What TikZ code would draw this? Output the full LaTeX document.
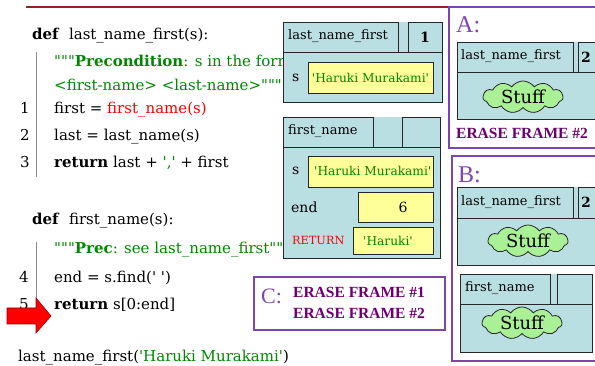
\documentclass[tikz,border=0pt]{standalone}
\usepackage{fontspec}
\setmainfont{DejaVu Serif}[Ligatures=TeXOff]
\newfontfamily\timesf{Liberation Serif}
\usetikzlibrary{shapes.symbols}
\definecolor{framebg}{RGB}{185,223,227}
\definecolor{yelbg}{RGB}{255,255,153}
\definecolor{cloudbg}{RGB}{170,240,150}
\definecolor{codegreen}{RGB}{0,135,0}
\definecolor{boxpurple}{RGB}{125,70,175}
\definecolor{erasepurple}{RGB}{110,0,110}
\definecolor{topred}{RGB}{150,35,35}
\tikzset{
  code/.style={anchor=base west, inner sep=0pt, font=\fontsize{15}{18}\selectfont},
  lnum/.style={anchor=base west, inner sep=0pt, font=\fontsize{15}{18}\selectfont},
  fbox/.style={draw=black!85, fill=framebg, line width=0.8pt},
  ybox/.style={draw=black!85, fill=yelbg, line width=0.8pt},
  ftext/.style={anchor=west, inner sep=0pt, font=\fontsize{13}{15}\selectfont},
  ytext/.style={inner sep=0pt, text=codegreen, font=\fontsize{12.2}{14}\selectfont},
  stuff/.style={cloud, cloud puffs=11, cloud puff arc=110, aspect=2.6, draw=black!85, fill=cloudbg, line width=0.8pt, inner sep=0pt, minimum width=80pt, minimum height=31pt, font=\fontsize{18}{20}\selectfont},
  pbox/.style={draw=boxpurple, line width=1.4pt},
  bigl/.style={anchor=west, inner sep=0pt, text=boxpurple, font=\timesf\fontsize{24}{26}\selectfont},
  erase/.style={anchor=west, inner sep=0pt, text=erasepurple, font=\timesf\bfseries\fontsize{15.5}{21}\selectfont},
  vline/.style={draw=black!45, line width=0.8pt}
}
\begin{document}
\begin{tikzpicture}[x=1pt,y=-1pt]
\clip (0,0) rectangle (595,366);
\fill[white] (0,0) rectangle (595,366);

% top line
\draw[topred, line width=1.4pt] (26,7) -- (449,7);

% ---------------- code ----------------
\node[code] (def1) at (32,40) {\textbf{def}\ \ last\_name\_first(s):};
\draw[vline] (36,52) -- (36,177);
\node[code, text=codegreen] (doc1) at (54,67) {"""\textbf{Precondition}: s in the form};
\node[code, text=codegreen] (doc2) at (54,91) {<first-name> <last-name>"""};
\node[code] (c1) at (54,114) {first = \textcolor{red}{first\_name(s)}};
\node[code] (c2) at (54,141) {last = last\_name(s)};
\node[code] (c3) at (54,168) {\textbf{return} last + \textcolor{codegreen}{','} + first};
\node[lnum] (n1) at (20,114) {1};
\node[lnum] (n2) at (20,141) {2};
\node[lnum] (n3) at (20,168) {3};

\node[code] (def2) at (32,225) {\textbf{def}\ \ first\_name(s):};
\draw[vline] (36,242) -- (36,312);
\node[code, text=codegreen] (doc3) at (54,254) {"""\textbf{Prec}: see last\_name\_first"""};
\node[code] (c4) at (54,283) {end = s.find(' ')};
\node[code] (c5) at (54,310) {\textbf{return} s[0:end]};
\node[lnum] (n4) at (19,283) {4};
\node[lnum] (n5) at (19,310) {5};

\node[code] (call) at (18,362) {last\_name\_first(\textcolor{codegreen}{'Haruki Murakami'})};

% red arrow
\draw[fill=red, draw=red!60!black, line width=0.6pt]
  (7,308) -- (36,308) -- (36,298) -- (51,316) -- (36,333) -- (36,324) -- (7,324) -- cycle;

% ---------------- frame 1 (middle) ----------------
\fill[framebg] (283,22) rectangle (442,102);
\draw[fbox] (283,52) rectangle (442,102);
\draw[fbox] (283,22) rectangle (398,52);
\draw[fbox] (408,22) rectangle (442,52);
\node[ftext] (f1name) at (288,36) {last\_name\_first};
\node[inner sep=0pt, font=\bfseries\fontsize{14}{16}\selectfont] (f1num) at (425,37) {1};
\node[ftext, font=\fontsize{14}{16}\selectfont] (f1s) at (292,78) {s};
\draw[ybox] (308,62) rectangle (433,93);
\node[ytext] (f1val) at (370.5,77.5) {'Haruki Murakami'};

% ---------------- frame 2 (middle) ----------------
\fill[framebg] (283,117) rectangle (440,258);
\draw[fbox] (283,147) rectangle (440,258);
\draw[fbox] (283,117) rectangle (373,147);
\draw[fbox] (402,117) rectangle (440,147);
\node[ftext] (f2name) at (288,131) {first\_name};
\node[ftext, font=\fontsize{14}{16}\selectfont] (f2s) at (292,171) {s};
\draw[ybox] (308,156) rectangle (433,187);
\begin{scope}
\clip (308,156) rectangle (433,187);
\node[ytext, anchor=west] (f2val) at (314,171) {'Haruki Murakami'};
\end{scope}
\draw[ybox, fill=none] (308,156) rectangle (433,187);
\node[ftext, font=\fontsize{14}{16}\selectfont] (f2end) at (291,207) {end};
\draw[ybox] (358,192) rectangle (433,222);
\node[inner sep=0pt, font=\fontsize{14}{16}\selectfont] (f2six) at (403,207) {6};
\node[ftext, text=red, font=\fontsize{11.3}{13}\selectfont] (f2ret) at (292,240) {RETURN};
\draw[ybox] (353,227) rectangle (433,254);
\node[ytext] (f2retval) at (388,241) {'Haruki'};

% ---------------- box C ----------------
\draw[pbox, fill=white] (254,277) rectangle (445,330);
\node[bigl, font=\timesf\fontsize{22}{24}\selectfont] (clab) at (261,296) {C:};
\node[erase, align=left] (ce) at (293,303) {ERASE FRAME \#1\\ERASE FRAME \#2};

% ---------------- box A ----------------
\draw[pbox] (449,7) rectangle (610,148);
\node[bigl] (alab) at (456,25) {A:};
\fill[framebg] (457,42) rectangle (610,119);
\draw[fbox] (457,72) rectangle (610,119);
\draw[fbox] (457,42) rectangle (573,72);
\draw[fbox] (578,42) rectangle (610,72);
\node[ftext] (aname) at (461,56) {last\_name\_first};
\node[anchor=west, inner sep=0pt, font=\bfseries\fontsize{14}{16}\selectfont] (anum) at (581,57) {2};
\node[stuff] (astuff) at (523,97) {Stuff};
\node[erase] (aerase) at (456,133) {ERASE FRAME \#2};

% ---------------- box B ----------------
\draw[pbox] (452,156) rectangle (610,361);
\node[bigl] (blab) at (458,175) {B:};
\fill[framebg] (457,187) rectangle (610,265);
\draw[fbox] (457,218) rectangle (610,265);
\draw[fbox] (457,187) rectangle (573,218);
\draw[fbox] (578,187) rectangle (610,218);
\node[ftext] (b1name) at (461,202) {last\_name\_first};
\node[anchor=west, inner sep=0pt, font=\bfseries\fontsize{14}{16}\selectfont] (b1num) at (581,202) {2};
\node[stuff] (b1stuff) at (528,241) {Stuff};

\fill[framebg] (460,274) rectangle (592,352);
\draw[fbox] (460,304) rectangle (592,352);
\draw[fbox] (460,274) rectangle (550,304);
\draw[fbox] (557,274) rectangle (592,304);
\node[ftext] (b2name) at (465,288) {first\_name};
\node[stuff] (b2stuff) at (522,323) {Stuff};
\end{tikzpicture}
\end{document}
